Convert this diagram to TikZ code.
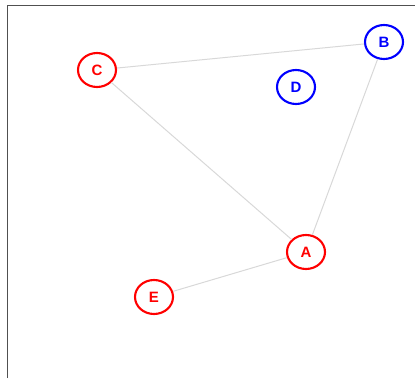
\documentclass[tikz,border=0pt]{standalone}
\usepackage{fontspec}
\setmainfont{Liberation Sans}
\usepackage{tikz}
\usetikzlibrary{positioning, shapes.geometric}
\definecolor{framegray}{HTML}{505050}
\definecolor{edgegray}{HTML}{D8D8D8}

\begin{document}
\begin{tikzpicture}[
  x=1pt, y=1pt,
  redn/.style={ellipse, draw=red, fill=white, line width=2.1pt,
               minimum width=38pt, minimum height=34pt, inner sep=0pt,
               text=red, font=\fontsize{15}{17}\selectfont\bfseries},
  bluen/.style={redn, draw=blue, text=blue},
  e/.style={draw=edgegray, line width=1pt}
]
\useasboundingbox (0,0) rectangle (415,378);

% ---------------------------------------------- frame
\draw[framegray, line width=1.8pt] (7.5,0) -- (7.5,372.5) -- (415,372.5);

% ---------------------------------------------- nodes
\node[redn]  (a) at (306, 126) {A};
\node[bluen] (b) at (384, 336) {B};
\node[redn]  (c) at ( 97, 308) {C};
\node[bluen] (d) at (296, 291) {D};
\node[redn]  (e) at (154,  81) {E};

% ---------------------------------------------- edges
\draw[e] (c) -- (b);
\draw[e] (c) -- (a);
\draw[e] (b) -- (a);
\draw[e] (e) -- (a);

\end{tikzpicture}
\end{document}
